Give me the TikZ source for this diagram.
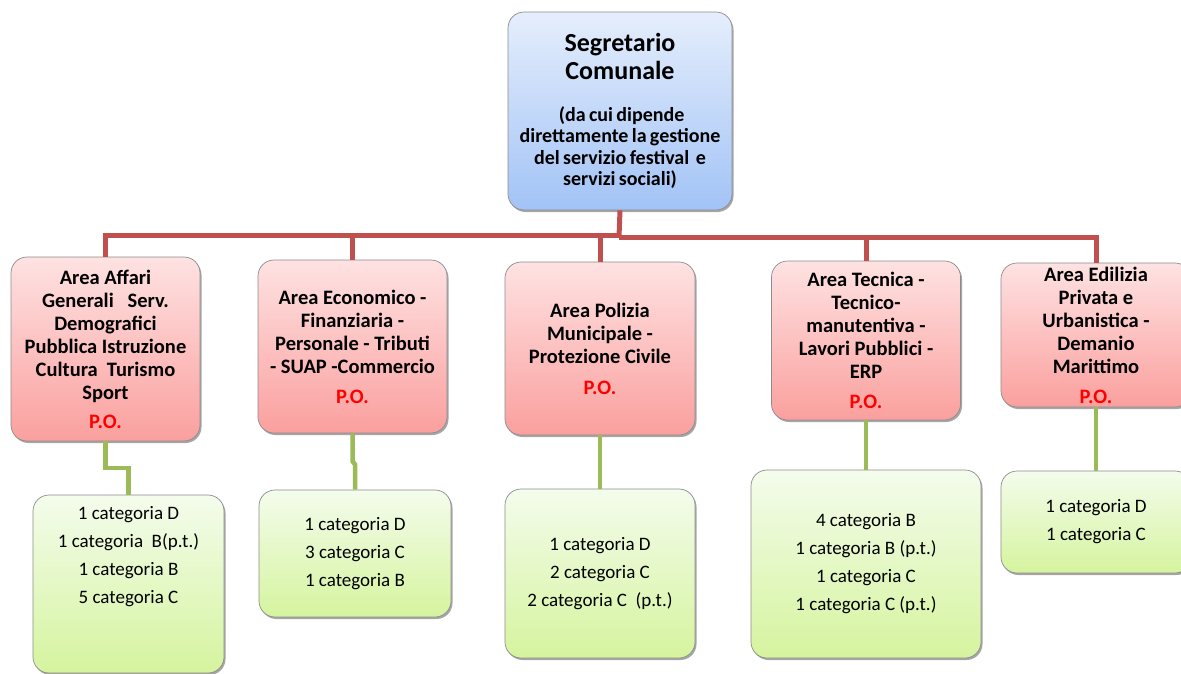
\documentclass[tikz,border=0pt]{standalone}
\usepackage{fontspec}
\setmainfont{Carlito}
\usetikzlibrary{shadows}
\definecolor{blueT}{RGB}{229,238,252}
\definecolor{blueB}{RGB}{162,195,246}
\definecolor{pinkT}{RGB}{254,226,226}
\definecolor{pinkB}{RGB}{250,160,158}
\definecolor{greenT}{RGB}{244,252,236}
\definecolor{greenB}{RGB}{213,244,158}
\definecolor{linered}{RGB}{192,80,77}
\definecolor{linegreen}{RGB}{155,187,89}
\definecolor{pored}{RGB}{255,0,0}
\tikzset{
  boxbase/.style={rounded corners=16pt, draw=black!45, line width=0.7pt, inner sep=0pt, align=center,
    drop shadow={shadow xshift=1.5pt, shadow yshift=-2pt, opacity=0.35, fill=black}},
  topbox/.style={boxbase, top color=blueT, bottom color=blueB, minimum width=224pt, minimum height=198pt,
    text width=220pt, font=\bfseries},
  areabox/.style={boxbase, top color=pinkT, bottom color=pinkB,
    font=\fontsize{20.5}{23}\selectfont\bfseries},
  staffbox/.style={boxbase, top color=greenT, bottom color=greenB,
    font=\fontsize{19}{28}\selectfont},
  stafftext/.style={align=center, inner sep=0pt, font=\fontsize{19}{28}\selectfont},
  redline/.style={draw=linered, line width=5pt},
  greenline/.style={draw=linegreen, line width=4.5pt},
}
\newcommand{\PO}{\textcolor{pored}{P.O.}}
\begin{document}
\begin{tikzpicture}[x=1pt,y=-1pt]
\clip (0,0) rectangle (1181,673);
\fill[white] (0,0) rectangle (1181,673);

% top box
\node[topbox] (top) at (620,111) {\fontsize{26}{28}\selectfont Segretario\\Comunale\par
  \vspace{20pt}\fontsize{20}{21.5}\selectfont ~(da cui dipende\\direttamente la gestione\\del servizio festival~ e\\servizi sociali)\par};

% area boxes
\node[areabox, minimum width=189pt, minimum height=184pt] (b1) at (105.5,349)
  {Area Affari\\Generali~~ Serv.\\Demografici\\Pubblica Istruzione\\Cultura~ Turismo\\Sport\\[6pt]\PO};
\node[areabox, minimum width=189pt, minimum height=173pt] (b2) at (352.5,346.5)
  {Area Economico -\\Finanziaria -\\Personale - Tributi\\- SUAP -Commercio\\[7pt]\PO};
\node[areabox, minimum width=190pt, minimum height=173pt] (b3) at (600,348.5)
  {Area Polizia\\Municipale -\\Protezione Civile\\[8pt]\PO};
\node[areabox, minimum width=189pt, minimum height=159pt] (b4) at (866,340.5)
  {Area Tecnica -\\Tecnico-\\manutentiva -\\Lavori Pubblici -\\ERP\\[7pt]\PO};
\node[areabox, minimum width=190pt, minimum height=144pt] (b5) at (1096,335)
  {Area Edilizia\\Privata e\\Urbanistica -\\Demanio\\Marittimo\\[7pt]\PO};

% staff boxes
\node[staffbox, minimum width=191pt, minimum height=178pt] (g1) at (128.5,584) {};
\node[stafftext] (g1t) at (128.5,557) {1 categoria D\\1 categoria~ B(p.t.)\\1 categoria B\\5 categoria C};
\node[staffbox, minimum width=192pt, minimum height=127pt] (g2) at (355,553.5)
  {1 categoria D\\3 categoria C\\1 categoria B};
\node[staffbox, minimum width=190pt, minimum height=169pt] (g3) at (600,573.5)
  {1 categoria D\\2 categoria C\\2 categoria C~ (p.t.)};
\node[staffbox, minimum width=230pt, minimum height=188pt] (g4) at (866,564)
  {4 categoria B\\1 categoria B (p.t.)\\1 categoria C\\1 categoria C (p.t.)};
\node[staffbox, minimum width=190pt, minimum height=102pt] (g5) at (1096,522)
  {1 categoria D\\1 categoria C};

% red connectors
\coordinate (jl) at (619,235);
\coordinate (jr) at (619,237);
\draw[redline] (top.south) -- (jr);
\draw[redline] (b1.north) |- (jl);
\draw[redline] (jr) -| (b5.north);
\draw[redline] (b2.north) -- (b2.north |- jl);
\draw[redline] (b3.north) -- (b3.north |- jl);
\draw[redline] (b4.north) -- (b4.north |- jr);

% green connectors
\coordinate (c1) at (105.5,468);
\draw[greenline] (b1.south) -- (c1) -| (g1.north);
\draw[greenline] (b2.south) -- ++(0,28) -- ++(2.5,3) -- (g2.north);
\draw[greenline] (b3.south) -- (g3.north);
\draw[greenline] (b4.south) -- (g4.north);
\draw[greenline] (b5.south) -- (g5.north);
\end{tikzpicture}
\end{document}
